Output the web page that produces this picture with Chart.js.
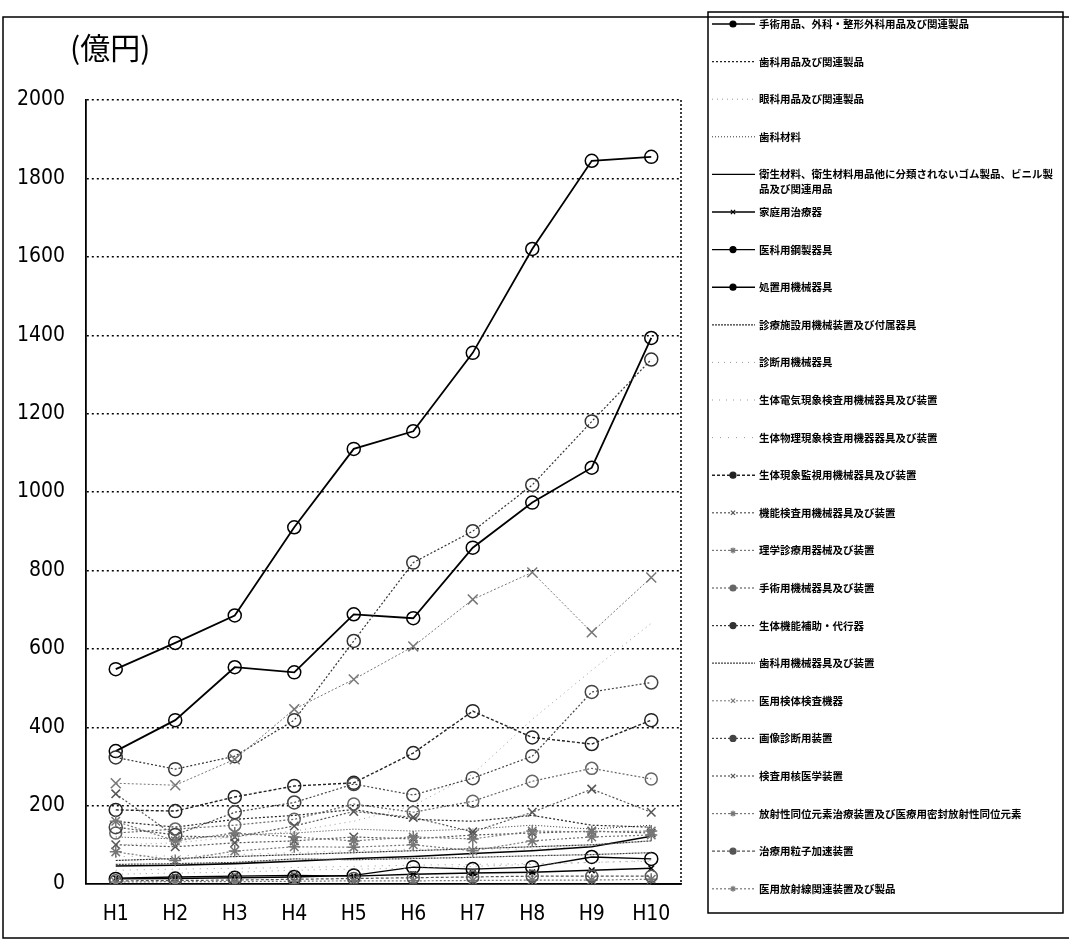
<!DOCTYPE html>
<html>
<head>
<meta charset="utf-8">
<script src="https://cdn.jsdelivr.net/npm/chart.js@4"></script>
<style>
  html, body { margin: 0; padding: 0; background: #fff; }
  #wrap { width: 1069px; height: 941px; position: relative; }
  canvas { display: block; }
</style>
</head>
<body>
<div id="wrap"><canvas id="c" width="1069" height="941"></canvas></div>
<script>
// 年度
const categories = ['H1', 'H2', 'H3', 'H4', 'H5', 'H6', 'H7', 'H8', 'H9', 'H10'];
const yTicks = [0, 200, 400, 600, 800, 1000, 1200, 1400, 1600, 1800, 2000];
const unitLabel = '(億円)';

const seriesNames = [
  '手術用品、外科・整形外科用品及び関連製品',
  '歯科用品及び関連製品',
  '眼科用品及び関連製品',
  '歯科材料',
  '衛生材料、衛生材料用品他に分類されないゴム製品、ビニル製品及び関連用品',
  '家庭用治療器',
  '医科用鋼製器具',
  '処置用機械器具',
  '診療施設用機械装置及び付属器具',
  '診断用機械器具',
  '生体電気現象検査用機械器具及び装置',
  '生体物理現象検査用機器器具及び装置',
  '生体現象監視用機械器具及び装置',
  '機能検査用機械器具及び装置',
  '理学診療用器械及び装置',
  '手術用機械器具及び装置',
  '生体機能補助・代行器',
  '歯科用機械器具及び装置',
  '医用検体検査機器',
  '画像診断用装置',
  '検査用核医学装置',
  '放射性同位元素治療装置及び医療用密封放射性同位元素',
  '治療用粒子加速装置',
  '医用放射線関連装置及び製品'
];

// 金額(億円) H1〜H10
const s01 = [548, 615, 685, 910, 1110, 1155, 1355, 1620, 1845, 1855];
const s02 = [160, 145, 165, 175, 190, 165, 160, 175, 150, 145];
const s03 = [100, 105, 120, 135, 160, 200, 280, 420, 545, 665];
const s04 = [120, 115, 125, 130, 140, 135, 140, 150, 140, 150];
const s05 = [46, 48, 52, 58, 65, 70, 78, 85, 95, 122];
const s06 = [15, 18, 20, 22, 20, 25, 28, 30, 35, 40];
const s07 = [13, 14, 16, 18, 22, 43, 38, 43, 69, 64];
const s08 = [339, 418, 553, 540, 688, 678, 858, 973, 1062, 1393];
const s09 = [60, 65, 70, 75, 80, 85, 90, 95, 100, 110];
const s10 = [25, 28, 30, 35, 38, 40, 45, 50, 55, 60];
const s11 = [35, 38, 40, 42, 45, 48, 50, 52, 55, 58];
const s12 = [70, 72, 75, 80, 85, 89, 89, 89, 97, 110];
const s13 = [189, 186, 222, 250, 258, 334, 441, 374, 357, 418];
const s14 = [100, 95, 105, 110, 120, 115, 125, 130, 135, 130];
const s15 = [82, 60, 84, 95, 94, 100, 85, 110, 120, 125];
const s16 = [130, 140, 150, 165, 204, 183, 211, 262, 295, 268];
const s17 = [323, 293, 326, 418, 620, 820, 900, 1018, 1180, 1338];
const s18 = [50, 52, 55, 64, 62, 65, 68, 72, 75, 80];
const s19 = [257, 252, 318, 446, 522, 606, 726, 795, 642, 782];
const s20 = [145, 125, 183, 208, 255, 227, 270, 326, 490, 514];
const s21 = [230, 122, 120, 148, 185, 170, 133, 183, 242, 183];
const s22 = [5, 6, 6, 7, 8, 8, 9, 10, 10, 12];
const s23 = [8, 9, 10, 12, 14, 16, 18, 20, 20, 20];
const s24 = [160, 110, 130, 120, 110, 120, 115, 135, 133, 135];

const seriesValues = [s01, s02, s03, s04, s05, s06, s07, s08, s09, s10, s11, s12,
                      s13, s14, s15, s16, s17, s18, s19, s20, s21, s22, s23, s24];

// 線種・マーカー
const styles = [
  { c: '#000', w: 1.8, d: [],      p: 'circle',   r: 6.5 },
  { c: '#222', w: 1.2, d: [2, 2],  p: false,      r: 0 },
  { c: '#999', w: 1.0, d: [1, 4],  p: false,      r: 0 },
  { c: '#333', w: 1.0, d: [1, 2],  p: false,      r: 0 },
  { c: '#000', w: 1.6, d: [],      p: false,      r: 0 },
  { c: '#000', w: 1.4, d: [],      p: 'crossRot', r: 4 },
  { c: '#000', w: 1.4, d: [],      p: 'circle',   r: 6.5 },
  { c: '#000', w: 1.8, d: [],      p: 'circle',   r: 6.5 },
  { c: '#333', w: 1.2, d: [2, 1],  p: false,      r: 0 },
  { c: '#999', w: 1.0, d: [1, 5],  p: false,      r: 0 },
  { c: '#999', w: 1.0, d: [1, 6],  p: false,      r: 0 },
  { c: '#999', w: 1.0, d: [1, 7],  p: false,      r: 0 },
  { c: '#222', w: 1.4, d: [3, 2],  p: 'circle',   r: 6.5 },
  { c: '#555', w: 1.2, d: [2, 2],  p: 'crossRot', r: 6 },
  { c: '#777', w: 1.2, d: [2, 2],  p: 'star',     r: 6 },
  { c: '#666', w: 1.2, d: [2, 2],  p: 'circle',   r: 6 },
  { c: '#333', w: 1.2, d: [2, 2],  p: 'circle',   r: 6.5 },
  { c: '#444', w: 1.2, d: [2, 1],  p: false,      r: 0 },
  { c: '#777', w: 1.0, d: [2, 2],  p: 'crossRot', r: 7 },
  { c: '#444', w: 1.2, d: [2, 2],  p: 'circle',   r: 6.5 },
  { c: '#555', w: 1.2, d: [2, 2],  p: 'crossRot', r: 6 },
  { c: '#777', w: 1.2, d: [2, 2],  p: 'star',     r: 6 },
  { c: '#555', w: 1.2, d: [3, 2],  p: 'circle',   r: 6 },
  { c: '#777', w: 1.2, d: [2, 2],  p: 'star',     r: 6 }
];

const datasets = seriesNames.map((name, i) => {
  const st = styles[i];
  return {
    label: name,
    data: seriesValues[i],
    borderColor: st.c,
    borderWidth: st.w,
    borderDash: st.d,
    pointStyle: st.p,
    pointRadius: st.r,
    pointBorderColor: st.c,
    pointBorderWidth: 1.5,
    pointBackgroundColor: 'rgba(0,0,0,0)',
    fill: false,
    tension: 0
  };
}).reverse();

const PLOT = { left: 86, top: 100, right: 681, bottom: 884 };
const JP_FONT = "'Noto Sans CJK JP', 'Noto Sans', sans-serif";

// 目盛り用の細身フォント(使えるものを選ぶ)
function pickTickFont() {
  const c = document.createElement('canvas').getContext('2d');
  const probe = (fam) => {
    c.font = '40px ' + fam + ', monospace';
    const a = c.measureText('2000H10').width;
    c.font = '40px monospace';
    const b = c.measureText('2000H10').width;
    return a !== b;
  };
  const candidates = [
    { fam: "'Liberation Sans Narrow'", size: 24 },
    { fam: "'DejaVu Sans Condensed'", size: 21 },
    { fam: "'Roboto Condensed'", size: 22 },
    { fam: "'Liberation Sans'", size: 20 }
  ];
  for (const cand of candidates) {
    if (probe(cand.fam)) return cand;
  }
  return { fam: 'sans-serif', size: 20 };
}
const tickFont = pickTickFont();

// 外枠・凡例・単位表示
const decorations = {
  id: 'decorations',
  afterDraw(chart) {
    const ctx = chart.ctx;
    const area = chart.chartArea;
    ctx.save();

    // 外枠
    ctx.strokeStyle = '#000';
    ctx.lineWidth = 1.5;
    ctx.beginPath();
    ctx.moveTo(1069, 17); ctx.lineTo(3, 17); ctx.lineTo(3, 938); ctx.lineTo(1069, 938);
    ctx.stroke();

    // プロット領域の右端(点線)
    ctx.lineWidth = 1.5;
    ctx.setLineDash([2, 2]);
    ctx.beginPath();
    ctx.moveTo(area.right, area.top); ctx.lineTo(area.right, area.bottom);
    ctx.stroke();
    ctx.setLineDash([]);
    ctx.beginPath();
    ctx.moveTo(area.right - 30, area.bottom); ctx.lineTo(area.right, area.bottom);
    ctx.stroke();

    // 単位
    ctx.fillStyle = '#000';
    ctx.font = "30px " + JP_FONT;
    ctx.textBaseline = 'middle';
    ctx.textAlign = 'left';
    ctx.fillText(unitLabel, 70, 48);

    // 凡例
    const box = { x: 708, y: 12, w: 355, h: 901 };
    ctx.lineWidth = 1.5;
    ctx.strokeStyle = '#000';
    ctx.strokeRect(box.x, box.y, box.w, box.h);

    ctx.font = "bold 10.5px " + JP_FONT;
    ctx.textBaseline = 'middle';
    const textX = 759;
    const maxW = box.x + box.w - textX - 6;
    const metas = chart.data.datasets.slice().reverse();
    metas.forEach((ds, i) => {
      const y = 24 + i * 37.6;
      // 線見本
      ctx.save();
      ctx.strokeStyle = ds.borderColor;
      ctx.lineWidth = Math.min(ds.borderWidth, 1.4);
      ctx.setLineDash(ds.borderDash || []);
      ctx.beginPath();
      ctx.moveTo(712, y); ctx.lineTo(755, y);
      ctx.stroke();
      ctx.setLineDash([]);
      if (ds.pointStyle) {
        ctx.fillStyle = ds.borderColor;
        ctx.lineWidth = 1.2;
        Chart.helpers.drawPoint(ctx, {
          pointStyle: ds.pointStyle,
          radius: 3,
          rotation: 0,
          borderWidth: 1.2
        }, 733, y);
      }
      ctx.restore();

      // 名称(折り返し)
      ctx.fillStyle = '#000';
      let line = '';
      let ly = y;
      for (const ch of ds.label) {
        if (ctx.measureText(line + ch).width > maxW) {
          ctx.fillText(line, textX, ly);
          line = ch;
          ly += 15;
        } else {
          line += ch;
        }
      }
      ctx.fillText(line, textX, ly);
    });

    ctx.restore();
  }
};

new Chart(document.getElementById('c'), {
  type: 'line',
  data: { labels: categories, datasets },
  options: {
    responsive: false,
    animation: false,
    devicePixelRatio: 1,
    layout: {
      padding: { left: 0, top: PLOT.top, right: 1069 - PLOT.right, bottom: 0 }
    },
    plugins: {
      legend: { display: false },
      tooltip: { enabled: false }
    },
    scales: {
      x: {
        offset: true,
        grid: { display: false, drawTicks: false },
        border: { display: true, color: '#000', width: 1.8 },
        ticks: {
          color: '#000',
          padding: 18,
          font: { family: tickFont.fam, size: tickFont.size }
        },
        afterFit(scale) { scale.height = 941 - PLOT.bottom; }
      },
      y: {
        min: 0,
        max: 2000,
        afterBuildTicks(scale) { scale.ticks = yTicks.map(v => ({ value: v })); },
        grid: {
          color: '#000',
          lineWidth: (c) => (c.tick && c.tick.value === 0 ? 0 : 1.4),
          drawTicks: false
        },
        border: { display: true, color: '#000', width: 1.8, dash: [2, 3] },
        ticks: {
          color: '#000',
          padding: 21,
          font: { family: tickFont.fam, size: tickFont.size },
          callback: (v) => String(v)
        },
        afterFit(scale) { scale.width = PLOT.left; }
      }
    }
  },
  plugins: [decorations]
});
</script>
</body>
</html>
